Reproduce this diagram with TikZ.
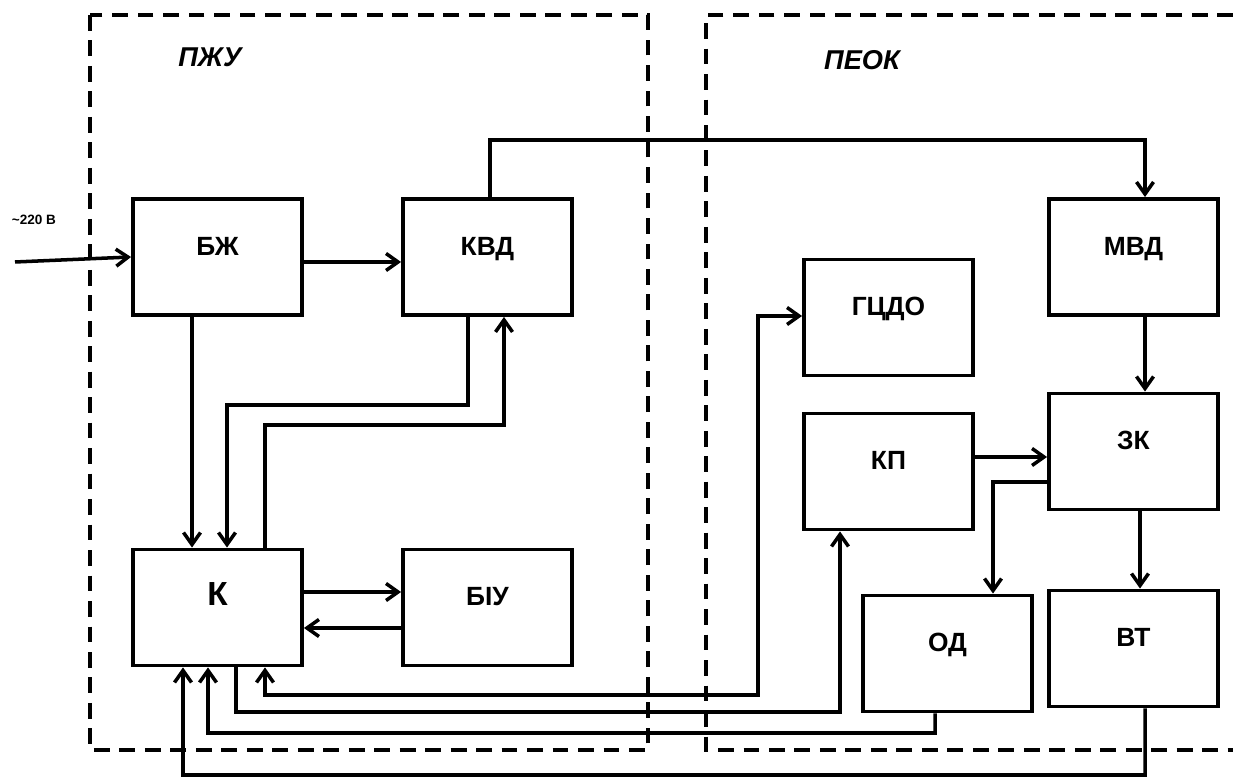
\documentclass[tikz,border=0pt]{standalone}
\usepackage{fontspec}
\setmainfont{Liberation Sans}
\usetikzlibrary{arrows.meta, calc}

\begin{document}
\begin{tikzpicture}[
        block/.style={rectangle, draw, line width=2.2pt, font=\fontsize{15}{17}\selectfont\bfseries, align=center, minimum width=3.38cm, minimum height=2.32cm, text height=0.3cm, text depth=0.36cm},
        conn/.style={line width=2pt, -{Straight Barb[length=2.4mm, width=3.4mm]}},
        link/.style={line width=2pt},
        frame/.style={line width=2.3pt, dash pattern=on 9pt off 5.5pt},
        title/.style={font=\fontsize{15.5}{17}\selectfont\bfseries\itshape}
    ]
        \useasboundingbox (0, 0) rectangle (24.66, 15.6);

        % Frames
        \draw[frame] (1.8, 15.3) rectangle (12.96, 0.6);
        \draw[frame] (24.66, 15.3) -- (14.12, 15.3) -- (14.12, 0.6) -- (24.66, 0.6);
        \node[title] (pzhu) at (4.2, 14.45) {ПЖУ};
        \node[title] (peok) at (17.24, 14.4) {ПЕОК};

        % Blocks
        \node[block] (bzh) at (4.35, 10.46) {БЖ};
        \node[block] (kvd) at (9.75, 10.46) {КВД};
        \node[block, font=\fontsize{19}{21}\selectfont\bfseries] (k) at (4.35, 3.45) {К};
        \node[block] (biu) at (9.75, 3.45) {БІУ};
        \node[block] (gcdo) at (17.77, 9.25) {ГЦДО};
        \node[block] (mvd) at (22.67, 10.46) {МВД};
        \node[block] (kp) at (17.77, 6.17) {КП};
        \node[block] (zk) at (22.67, 6.57) {ЗК};
        \node[block] (od) at (18.95, 2.53) {ОД};
        \node[block] (vt) at (22.67, 2.63) {ВТ};

        % Mains input
        \coordinate (mains) at (0.3, 10.36);
        \node[font=\fontsize{7.7}{9}\selectfont\bfseries] (volt) at (0.68, 11.2) {\textasciitilde220 В};
        \draw[conn] (mains) -- (bzh.west);

        % PZhU links
        \draw[conn] ([yshift=-0.1cm]bzh.east) -- ([yshift=-0.1cm]kvd.west);
        \draw[conn] ([xshift=-0.51cm]bzh.south) -- ([xshift=-0.51cm]k.north);
        \draw[conn] ([xshift=-0.39cm]kvd.south) -- ++(0, -1.76) -| ([xshift=0.19cm]k.north);
        \draw[conn] ([xshift=0.95cm]k.north) |- (10.08, 7.1) -- ([xshift=0.33cm]kvd.south);
        \draw[conn] ([yshift=0.31cm]k.east) -- ([yshift=0.31cm]k.east -| biu.west);
        \draw[conn] ([yshift=-0.41cm]biu.west) -- ([yshift=-0.41cm]biu.west -| k.east);

        % PEOK links
        \draw[conn] ([xshift=0.05cm]kvd.north) |- (22.9, 12.8) -- ([xshift=0.23cm]mvd.north);
        \draw[conn] ([xshift=0.23cm]mvd.south) -- ([xshift=0.23cm]zk.north);
        \draw[conn] ([yshift=0.29cm]kp.east) -- ([yshift=0.29cm]kp.east -| zk.west);
        \draw[conn] ([yshift=-0.61cm]zk.west) -| ([xshift=0.91cm]od.north);
        \draw[conn] ([xshift=0.13cm]zk.south) -- ([xshift=0.13cm]vt.north);

        % Feedback to K
        \draw[link, {Straight Barb[length=2.4mm, width=3.4mm]}-{Straight Barb[length=2.4mm, width=3.4mm]}] ([xshift=0.95cm]k.south) |- (15.16, 1.7) |- ([yshift=0.03cm]gcdo.west);
        \draw[conn] ([xshift=0.37cm]k.south) |- (16.8, 1.36) -- ([xshift=-0.97cm]kp.south);
        \draw[conn] ([xshift=-0.25cm]od.south) |- (4.16, 0.94) -- ([xshift=-0.19cm]k.south);
        \draw[conn] ([xshift=0.23cm]vt.south) |- (3.66, 0.1) -- ([xshift=-0.69cm]k.south);
    \end{tikzpicture}
\end{document}
